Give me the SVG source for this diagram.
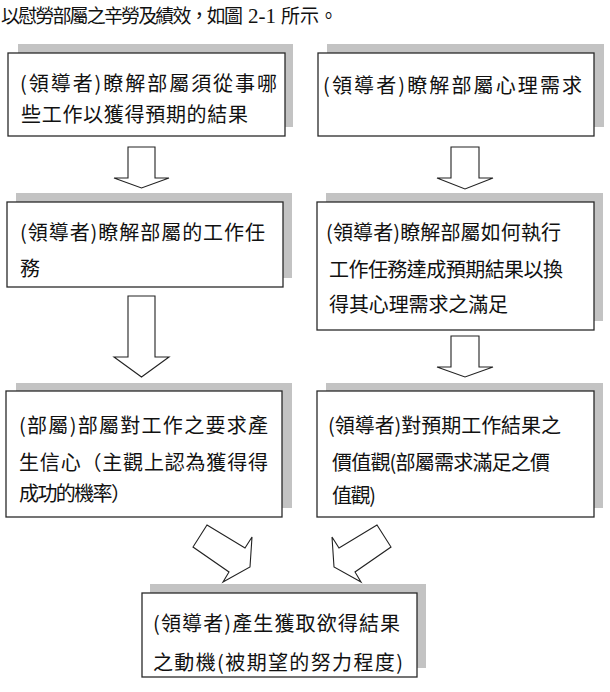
<svg xmlns="http://www.w3.org/2000/svg" width="610" height="692" viewBox="0 0 610 692">
<style>
.bg{fill:#ffffff}
.shadow{fill:#c3c3c3}
.box{fill:#ffffff;stroke:#2a2a2a;stroke-width:1.3}
.arrow{fill:#ffffff;stroke:#222222;stroke-width:1.1;stroke-linejoin:miter}
.t{font-family:"Noto Sans CJK TC","Noto Sans CJK SC",sans-serif;font-size:20px;fill:#111111}
.tt{font-family:"Noto Sans CJK TC","Noto Sans CJK SC",sans-serif;font-size:19px;fill:#111111}
.num{font-family:"Liberation Serif",serif;font-size:21px;fill:#111111}
</style>
<rect class="bg" x="0" y="0" width="610" height="692"/>
<g id="title">
<text class="tt" x="1" y="23" textLength="242" lengthAdjust="spacing">以慰勞部屬之辛勞及績效，如圖</text>
<text class="num" x="248" y="23">2-1</text>
<text class="tt" x="281" y="23">所示。</text>
</g>
<g id="connectors">
<polygon class="arrow" points="128,147 155,147 155,178 169,178 141.5,188 114,178 128,178"/>
<polygon class="arrow" points="451,147 479,147 479,178 493,178 465,189 437,178 451,178"/>
<polygon class="arrow" points="128,296 155,296 155,357 169,357 141.5,377 114,357 128,357"/>
<polygon class="arrow" points="451,336 479,336 479,367 493,367 465,377 437,367 451,367"/>
<polygon class="arrow" points="207,525 245,548 252,537 250,567 223,582 229,572 193,547"/>
<polygon class="arrow" points="377,525 339,548 332,537 334,567 361,582 355,572 391,547"/>
</g>
<g id="node1">
<rect class="shadow" x="18" y="44" width="275" height="83"/>
<rect class="box" x="8" y="53" width="277" height="83"/>
<text class="t" x="20" y="91" textLength="257" lengthAdjust="spacing">(領導者)瞭解部屬須從事哪</text>
<text class="t" x="21" y="122" textLength="227" lengthAdjust="spacing">些工作以獲得預期的結果</text>
</g>
<g id="node2">
<rect class="shadow" x="327" y="44" width="277" height="83"/>
<rect class="box" x="318" y="53" width="276" height="83"/>
<text class="t" x="323" y="93" textLength="259" lengthAdjust="spacing">(領導者)瞭解部屬心理需求</text>
</g>
<g id="node3">
<rect class="shadow" x="16" y="193" width="276" height="85"/>
<rect class="box" x="7" y="202" width="276" height="85"/>
<text class="t" x="20" y="240" textLength="245" lengthAdjust="spacing">(領導者)瞭解部屬的工作任</text>
<text class="t" x="20" y="276">務</text>
</g>
<g id="node4">
<rect class="shadow" x="326" y="193" width="277" height="128"/>
<rect class="box" x="317" y="202" width="277" height="128"/>
<text class="t" x="326" y="240" textLength="235" lengthAdjust="spacing">(領導者)瞭解部屬如何執行</text>
<text class="t" x="329" y="277" textLength="234" lengthAdjust="spacing">工作任務達成預期結果以換</text>
<text class="t" x="329" y="312" textLength="179" lengthAdjust="spacing">得其心理需求之滿足</text>
</g>
<g id="node5">
<rect class="shadow" x="16" y="383" width="276" height="125"/>
<rect class="box" x="6" y="391" width="276" height="126"/>
<text class="t" x="19" y="433" textLength="249" lengthAdjust="spacing">(部屬)部屬對工作之要求產</text>
<text class="t" x="19" y="470" textLength="249" lengthAdjust="spacing">生信心（主觀上認為獲得得</text>
<text class="t" x="19" y="501" textLength="112" lengthAdjust="spacing">成功的機率）</text>
</g>
<g id="node6">
<rect class="shadow" x="326" y="383" width="277" height="125"/>
<rect class="box" x="317" y="391" width="277" height="126"/>
<text class="t" x="328" y="433" textLength="233" lengthAdjust="spacing">(領導者)對預期工作結果之</text>
<text class="t" x="332" y="470" textLength="218" lengthAdjust="spacing">價值觀(部屬需求滿足之價</text>
<text class="t" x="332" y="503" textLength="44" lengthAdjust="spacing">值觀)</text>
</g>
<g id="node7">
<rect class="shadow" x="150" y="584" width="276" height="84"/>
<rect class="box" x="142" y="593" width="275" height="84"/>
<text class="t" x="153" y="631" textLength="247" lengthAdjust="spacing">(領導者)產生獲取欲得結果</text>
<text class="t" x="153" y="670" textLength="250" lengthAdjust="spacing">之動機(被期望的努力程度)</text>
</g>
</svg>
